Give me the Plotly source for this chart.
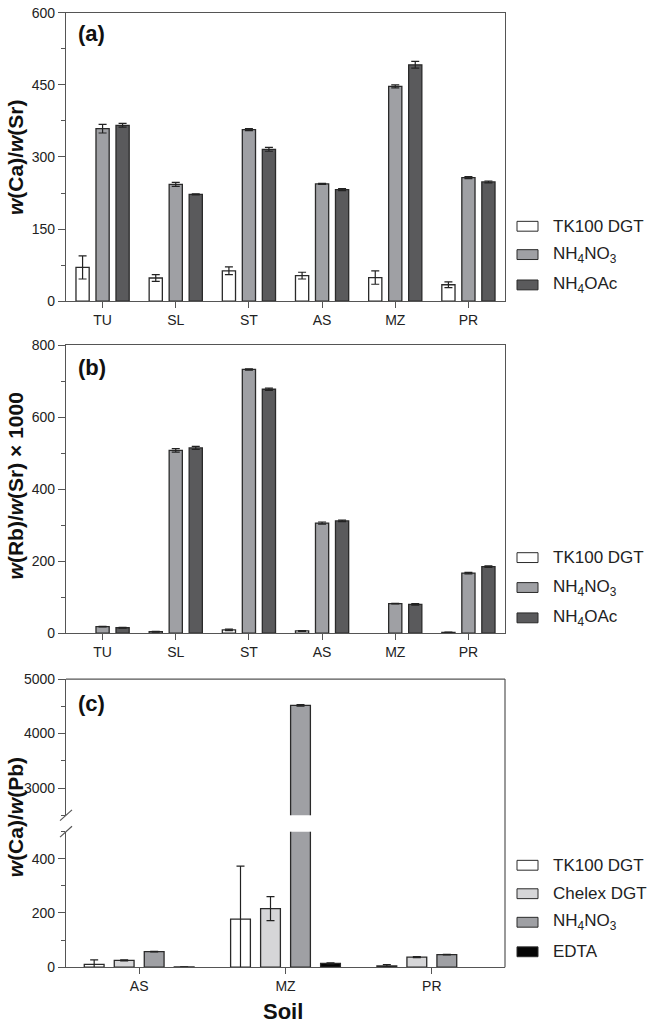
import plotly.graph_objects as go

# ---------------- data ----------------
cats_ab = ["TU", "SL", "ST", "AS", "MZ", "PR"]

a_tk100 = [70, 48, 63, 53, 49, 34]
a_tk100_err = [24, 7, 8, 7, 14, 6]
a_nh4no3 = [359, 243, 357, 244, 447, 257]
a_nh4no3_err = [9, 4, 2, 1, 3, 2]
a_nh4oac = [366, 222, 316, 232, 492, 248]
a_nh4oac_err = [4, 1, 4, 2, 7, 2]

b_tk100 = [None, 4, 9, 6, None, 2]
b_tk100_err = [0, 1, 2, 1, 0, 1]
b_nh4no3 = [18, 508, 733, 306, 82, 167]
b_nh4no3_err = [1, 5, 2, 3, 1, 2]
b_nh4oac = [15, 515, 678, 312, 80, 185]
b_nh4oac_err = [1, 4, 3, 2, 2, 2]

cats_c = ["AS", "MZ", "PR"]
c_tk100 = [10, 177, 5]
c_tk100_err = [17, 196, 4]
c_chelex = [25, 216, 37]
c_chelex_err = [2, 44, 2]
c_nh4no3 = [57, 4519, 46]
c_nh4no3_err = [1, 15, 1]
c_edta = [1, 14, None]
c_edta_err = [0.5, 2, 0]

# ---------------- styles ----------------
W, H = 648, 1029
FONT = "Liberation Sans, Arial, sans-serif"
C_WHITE = "#ffffff"
C_LIGHT = "#d6d6d8"
C_MID = "#9fa0a4"
C_DARK = "#5a5a5c"
C_BLACK = "#050505"
OUTLINE = "#2a2a2a"
AXC = "#555555"


def px(x):
    return x / W


def py(y):
    return 1 - y / H


XDOM = [px(66), px(505)]

fig = go.Figure()


def add_bar(x, y, err, color, xa, ya):
    fig.add_trace(go.Bar(
        x=x, y=y, xaxis=xa, yaxis=ya, showlegend=False,
        marker=dict(color=color, line=dict(color=OUTLINE, width=1.3)),
        error_y=dict(type="data", array=err, color="#222222", thickness=1.2, width=4),
    ))


# panel (a)
add_bar(cats_ab, a_tk100, a_tk100_err, C_WHITE, "x", "y")
add_bar(cats_ab, a_nh4no3, a_nh4no3_err, C_MID, "x", "y")
add_bar(cats_ab, a_nh4oac, a_nh4oac_err, C_DARK, "x", "y")
# panel (b)
add_bar(cats_ab, b_tk100, b_tk100_err, C_WHITE, "x2", "y2")
add_bar(cats_ab, b_nh4no3, b_nh4no3_err, C_MID, "x2", "y2")
add_bar(cats_ab, b_nh4oac, b_nh4oac_err, C_DARK, "x2", "y2")
# panel (c) upper and lower segments
for ya in ["y3", "y4"]:
    add_bar(cats_c, c_tk100, c_tk100_err, C_WHITE, "x3", ya)
    add_bar(cats_c, c_chelex, c_chelex_err, C_LIGHT, "x3", ya)
    add_bar(cats_c, c_nh4no3, c_nh4no3_err, C_MID, "x3", ya)
    add_bar(cats_c, c_edta, c_edta_err, C_BLACK, "x3", ya)

tickfont = dict(family=FONT, size=14, color="#222222")


def xax(anchor, nc, mirror=True):
    return dict(domain=XDOM, anchor=anchor, range=[-0.5, nc - 0.5],
                showline=True, linecolor=AXC, linewidth=1.2, mirror=mirror,
                ticks="outside", ticklen=6, tickcolor=AXC, tickwidth=1.2,
                showgrid=False, zeroline=False, tickfont=tickfont)


def yax(anchor, dom, rng, dtick, mdtick, mirror=True):
    return dict(domain=dom, anchor=anchor, range=rng, dtick=dtick, tick0=0,
                showline=True, linecolor=AXC, linewidth=1.2, mirror=mirror,
                ticks="outside", ticklen=7, tickcolor=AXC, tickwidth=1.2,
                minor=dict(ticks="outside", ticklen=4, dtick=mdtick, tick0=0,
                           tickcolor=AXC, showgrid=False),
                showgrid=False, zeroline=False, tickfont=tickfont)


fig.update_layout(
    width=W, height=H,
    margin=dict(l=0, r=0, t=0, b=0),
    paper_bgcolor="white", plot_bgcolor="white",
    font=dict(family=FONT, color="#222222"),
    barmode="group", bargap=0.18, bargroupgap=0.34,
    showlegend=False,
    xaxis=xax("y", 6),
    yaxis=yax("x", [py(297.7), py(5)], [0, 600], 150, 75),
    xaxis2=xax("y2", 6),
    yaxis2=yax("x2", [py(635), py(342.7)], [0, 800], 200, 100),
    xaxis3=xax("y4", 3, mirror=False),
    yaxis3=yax("x3", [py(820), py(681.7)], [2500, 5000], 1000, 500, mirror=False),
    yaxis4=yax("x3", [py(974.3), py(836.7)], [0, 500], 200, 100, mirror=False),
)

shapes = []
# frame of panel (c): top and right lines
shapes.append(dict(type="line", xref="paper", yref="paper", x0=XDOM[0], x1=XDOM[1],
                   y0=py(681.7), y1=py(681.7), line=dict(color=AXC, width=1.2)))
shapes.append(dict(type="line", xref="paper", yref="paper", x0=XDOM[1], x1=XDOM[1],
                   y0=py(974.3), y1=py(681.7), line=dict(color=AXC, width=1.2)))
# axis break marks
for yc in [820, 836.7]:
    shapes.append(dict(type="line", xref="paper", yref="paper",
                       x0=px(60), x1=px(72), y0=py(yc + 5.5), y1=py(yc - 5.5),
                       line=dict(color=AXC, width=1.2)))

annotations = []
# y-axis titles
ytitles = [
    ("<b><i>w</i>(Ca)/<i>w</i>(Sr)</b>", 151.4),
    ("<b><i>w</i>(Rb)/<i>w</i>(Sr) × 1000</b>", 486),
    ("<b><i>w</i>(Ca)/<i>w</i>(Pb)</b>", 822),
]
for t, yc in ytitles:
    annotations.append(dict(text=t, xref="paper", yref="paper", x=px(15), y=py(yc),
                            xanchor="center", yanchor="middle", textangle=-90,
                            showarrow=False, font=dict(family=FONT, size=21, color="#111111")))
# panel labels
for t, yc in [("(a)", 26), ("(b)", 365), ("(c)", 706.5)]:
    annotations.append(dict(text="<b>%s</b>" % t, xref="paper", yref="paper", x=px(76), y=py(yc),
                            xanchor="left", yanchor="middle", showarrow=False,
                            font=dict(family=FONT, size=22, color="#111111")))
# x-axis title
annotations.append(dict(text="<b>Soil</b>", xref="paper", yref="paper", x=px(283), y=py(1019),
                        xanchor="center", yanchor="middle", showarrow=False,
                        font=dict(family=FONT, size=22, color="#111111")))

# legends (drawn as boxes + labels)
leg_ab = [("TK100 DGT", C_WHITE), ("NH<sub>4</sub>NO<sub>3</sub>", C_MID), ("NH<sub>4</sub>OAc", C_DARK)]
leg_c = [("TK100 DGT", C_WHITE), ("Chelex DGT", C_LIGHT), ("NH<sub>4</sub>NO<sub>3</sub>", C_MID), ("EDTA", C_BLACK)]
legend_sets = [
    (leg_ab, [221.7, 250.5, 281.3]),
    (leg_ab, [558.3, 588.7, 619.5]),
    (leg_c, [870.8, 899.7, 928.7, 958.7]),
]
for items, ys in legend_sets:
    for (label, col), yc in zip(items, ys):
        shapes.append(dict(type="rect", xref="paper", yref="paper",
                           x0=px(517), x1=px(538), y0=py(yc + 5), y1=py(yc - 5),
                           fillcolor=col, line=dict(color=OUTLINE, width=1)))
        annotations.append(dict(text=label, xref="paper", yref="paper", x=px(551), y=py(yc),
                                xanchor="left", yanchor="middle", showarrow=False,
                                font=dict(family=FONT, size=17, color="#222222")))

fig.update_layout(shapes=shapes, annotations=annotations)

fig.write_html("out.html")
